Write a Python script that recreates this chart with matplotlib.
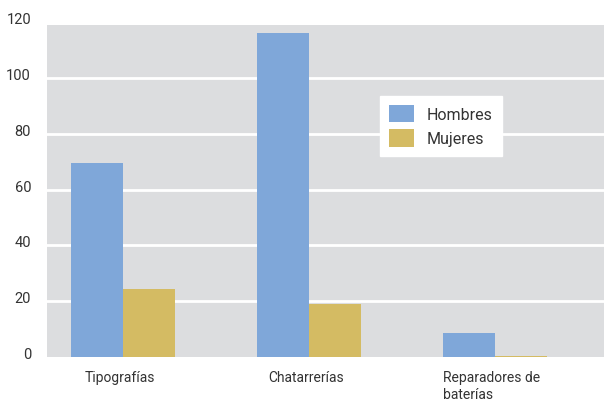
import matplotlib
matplotlib.use("Agg")
import matplotlib.pyplot as plt
import matplotlib.transforms as mtransforms
import numpy as np

plt.rcParams["font.family"] = ["Roboto", "DejaVu Sans"]

CATEGORIES = ["Tipografías", "Chatarrerías", "Reparadores de\nbaterías"]
HOMBRES = [69.5, 116, 8.6]
MUJERES = [24.3, 19, 0.5]
Y_TICKS = [0, 20, 40, 60, 80, 100, 120]

COLOR_H = "#7fa7d9"
COLOR_M = "#d4bb63"
BG = "#dcdddf"
TEXT = "#333333"

fig = plt.figure(figsize=(6.04, 4.02), dpi=100)
ax = fig.add_axes([47 / 604, 44 / 402, 557 / 604, 332 / 402])
ax.set_facecolor(BG)

x = np.arange(len(CATEGORIES))
w = 52 / 186
ax.bar(x - w / 2, HOMBRES, w, color=COLOR_H, label="Hombres", zorder=3)
ax.bar(x + w / 2, MUJERES, w, color=COLOR_M, label="Mujeres", zorder=3)

ax.set_xlim(-76 / 186, 2 + 109 / 186)
ax.set_ylim(0, 119)

for t in Y_TICKS[1:-1]:
    ax.axhline(t, color="white", lw=2, zorder=1)

for s in ax.spines.values():
    s.set_visible(False)
ax.set_xticks([])
ax.set_yticks([])

# y labels sit a bit above their gridlines
ytr = mtransforms.offset_copy(ax.get_yaxis_transform(), fig=fig, x=-16, y=3, units="dots")
for t in Y_TICKS:
    ax.text(0, t, str(t), transform=ytr, ha="right", va="center",
            fontsize=10.5, color=TEXT, clip_on=False)

xtr = mtransforms.offset_copy(ax.get_xaxis_transform(), fig=fig, x=-3, y=-13, units="dots")
for xi, lab in zip(x, CATEGORIES):
    ax.text(xi, 0, lab, transform=xtr, ha="center", va="top", multialignment="left",
            fontsize=10, color=TEXT, linespacing=1.3, clip_on=False)

leg = ax.legend(loc="upper left", bbox_to_anchor=((380 - 47) / 557, (402 - 97 - 44) / 332),
                frameon=True, fancybox=False, framealpha=1, edgecolor="white",
                fontsize=11.5, handlelength=1.6, handleheight=1.3, labelspacing=0.45,
                borderpad=0.55, handletextpad=0.8, borderaxespad=0)
for txt in leg.get_texts():
    txt.set_color(TEXT)

fig.savefig("out.png", dpi=100)
